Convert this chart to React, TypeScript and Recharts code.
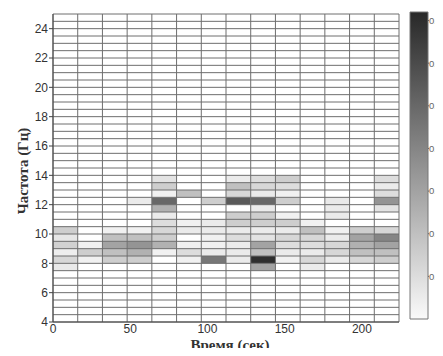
import React from 'react';
import {
  ComposedChart,
  XAxis,
  YAxis,
  ReferenceArea,
  ReferenceLine,
  Scatter,
  Label,
} from 'recharts';

// Time bin edges (s) and frequency bin edges (Hz)
const TIME_EDGES = [0, 16, 32, 48, 64, 80, 96, 112, 128, 144, 160, 176, 192, 208, 224];
const FREQ_EDGES = [
  4, 4.5, 5, 5.5, 6, 6.5, 7, 7.5, 8, 8.5, 9, 9.5, 10, 10.5, 11, 11.5, 12, 12.5, 13,
  13.5, 14, 14.5, 15, 15.5, 16, 16.5, 17, 17.5, 18, 18.5, 19, 19.5, 20, 20.5, 21,
  21.5, 22, 22.5, 23, 23.5, 24, 24.5, 25,
];
// Lower edges of the bands that carry visible power
const ACTIVE_BANDS = [7.5, 8, 8.5, 9, 9.5, 10, 10.5, 11, 11.5, 12, 12.5, 13, 13.5];

// Power per time column, for each ACTIVE_BANDS entry
const P_000 = [0.06, 0.12, 0.04, 0.14, 0.07, 0.15, 0, 0, 0, 0, 0, 0, 0];
const P_016 = [0, 0.03, 0.15, 0.03, 0, 0, 0, 0, 0, 0, 0, 0, 0];
const P_032 = [0, 0.15, 0.2, 0.3, 0.2, 0.03, 0, 0, 0, 0, 0, 0, 0];
const P_048 = [0, 0.15, 0.25, 0.35, 0.2, 0.03, 0, 0, 0, 0.05, 0, 0, 0];
const P_064 = [0, 0, 0.03, 0.25, 0.15, 0.12, 0.1, 0.05, 0.25, 0.5, 0.03, 0.15, 0.08];
const P_080 = [0, 0.03, 0.1, 0.03, 0, 0.05, 0.03, 0, 0, 0, 0.2, 0, 0];
const P_096 = [0, 0.45, 0.05, 0.03, 0.03, 0.05, 0.05, 0, 0, 0.15, 0, 0, 0];
const P_112 = [0, 0.05, 0.05, 0.05, 0.1, 0.05, 0.15, 0.15, 0, 0.55, 0.12, 0.2, 0.05];
const P_128 = [0.3, 0.7, 0.2, 0.3, 0.08, 0.05, 0.15, 0.15, 0.05, 0.5, 0.05, 0.12, 0.1];
const P_144 = [0, 0.03, 0.05, 0.1, 0.12, 0.05, 0.15, 0.03, 0, 0.15, 0.03, 0.1, 0.15];
const P_160 = [0.05, 0.12, 0.05, 0.1, 0.12, 0.2, 0.03, 0, 0, 0, 0, 0, 0];
const P_176 = [0, 0.05, 0.12, 0.12, 0.05, 0.03, 0, 0.05, 0.05, 0.06, 0, 0, 0];
const P_192 = [0, 0.12, 0.2, 0.25, 0.3, 0.15, 0, 0, 0, 0, 0, 0, 0];
const P_208 = [0, 0.15, 0.2, 0.3, 0.4, 0.12, 0, 0, 0.08, 0.35, 0.1, 0.05, 0.1];

const COLUMNS = [P_000, P_016, P_032, P_048, P_064, P_080, P_096, P_112, P_128, P_144, P_160, P_176, P_192, P_208];

const X_TICKS = [0, 50, 100, 150, 200];
const Y_TICKS = [4, 6, 8, 10, 12, 14, 16, 18, 20, 22, 24];
const CB_TICKS = [0.1, 0.2, 0.3, 0.4, 0.5, 0.6, 0.7];
const CB_MAX = 0.72;

const grayFor = (v: number) => {
  const g = Math.round(250 - (Math.min(v, CB_MAX) / CB_MAX) * 210);
  return `rgb(${g},${g},${g})`;
};

type Cell = { t0: number; t1: number; f0: number; f1: number; v: number; t: number; f: number };
const cells: Cell[] = [];
COLUMNS.forEach((col, i) => {
  col.forEach((v, j) => {
    if (v > 0) {
      const f0 = ACTIVE_BANDS[j];
      const f1 = FREQ_EDGES[FREQ_EDGES.indexOf(f0) + 1];
      cells.push({ t0: TIME_EDGES[i], t1: TIME_EDGES[i + 1], f0, f1, v, t: (TIME_EDGES[i] + TIME_EDGES[i + 1]) / 2, f: (f0 + f1) / 2 });
    }
  });
});

const tickStyle = { fontFamily: '"Liberation Sans", Arial, sans-serif', fontSize: 12, fill: '#333' };
const titleStyle = { fontFamily: '"Liberation Serif", "Times New Roman", serif', fontSize: 15, fontWeight: 700, fill: '#333' };
const GRID = '#6e6e6e';

const YTitle = (props: any) => {
  const vb = props.viewBox || {};
  const x = 23;
  const y = (vb.y ?? 14) + (vb.height ?? 308) / 2 + 3;
  return (
    <text x={x} y={y} transform={`rotate(-90 ${x} ${y})`} textAnchor="middle" dominantBaseline="central" style={titleStyle}>
      Частота (Гц)
    </text>
  );
};

const XTitle = (props: any) => {
  const vb = props.viewBox || {};
  const x = (vb.x ?? 53) + (vb.width ?? 346) / 2 + 4;
  return (
    <text x={x} y={350} textAnchor="middle" style={titleStyle}>
      Время (сек)
    </text>
  );
};

export default function App() {
  return (
    <div style={{ position: 'relative', width: 443, height: 356, margin: -8, overflow: 'hidden', background: '#fff' }}>
      <div style={{ position: 'absolute', left: 0, top: 0 }}>
        <ComposedChart width={443} height={356} margin={{ top: 14, right: 44, bottom: 4, left: 8 }}>
          <XAxis
            type="number"
            dataKey="t"
            domain={[0, 224]}
            ticks={X_TICKS}
            allowDataOverflow
            height={30}
            tickSize={0}
            tickMargin={2}
            tick={tickStyle}
            axisLine={{ stroke: '#444' }}
          >
            <Label content={<XTitle />} />
          </XAxis>
          <YAxis
            type="number"
            dataKey="f"
            domain={[4, 25]}
            ticks={Y_TICKS}
            allowDataOverflow
            width={45}
            tickSize={4}
            tickMargin={1}
            tick={tickStyle}
            tickLine={{ stroke: '#444' }}
            axisLine={{ stroke: '#444' }}
          >
            <Label content={<YTitle />} />
          </YAxis>
          {cells.map((c, k) => (
            <ReferenceArea
              key={`c${k}`}
              x1={c.t0}
              x2={c.t1}
              y1={c.f0}
              y2={c.f1}
              fill={grayFor(c.v)}
              fillOpacity={1}
              stroke="none"
            />
          ))}
          {FREQ_EDGES.map((f) => (
            <ReferenceLine key={`h${f}`} y={f} stroke={GRID} strokeWidth={1} />
          ))}
          {TIME_EDGES.map((t) => (
            <ReferenceLine key={`v${t}`} x={t} stroke={GRID} strokeWidth={1} />
          ))}
          <Scatter data={cells} dataKey="f" isAnimationActive={false} shape={() => <g />} />
        </ComposedChart>
      </div>
      <div style={{ position: 'absolute', left: 400, top: 0 }}>
        <ComposedChart width={43} height={356} margin={{ top: 12, right: 0, bottom: 37, left: 10 }}>
          <defs>
            <linearGradient id="cbGrad" x1="0" y1="0" x2="0" y2="1">
              <stop offset="0%" stopColor={grayFor(CB_MAX)} />
              <stop offset="100%" stopColor={grayFor(0)} />
            </linearGradient>
          </defs>
          <XAxis type="number" dataKey="x" domain={[0, 1]} hide />
          <YAxis
            type="number"
            dataKey="v"
            orientation="right"
            domain={[0, CB_MAX]}
            ticks={CB_TICKS}
            width={15}
            tickSize={1}
            tickMargin={0}
            axisLine={false}
            tickLine={{ stroke: '#666' }}
            tick={{ fontFamily: '"Liberation Sans", Arial, sans-serif', fontSize: 9.5, fill: '#666', textAnchor: 'start' }}
          />
          <ReferenceArea x1={0} x2={1} y1={0} y2={CB_MAX} fill="url(#cbGrad)" fillOpacity={1} stroke="#777" strokeWidth={1} />
          <Scatter data={[{ x: 0.5, v: 0.35 }]} dataKey="v" isAnimationActive={false} shape={() => <g />} />
        </ComposedChart>
      </div>
    </div>
  );
}
